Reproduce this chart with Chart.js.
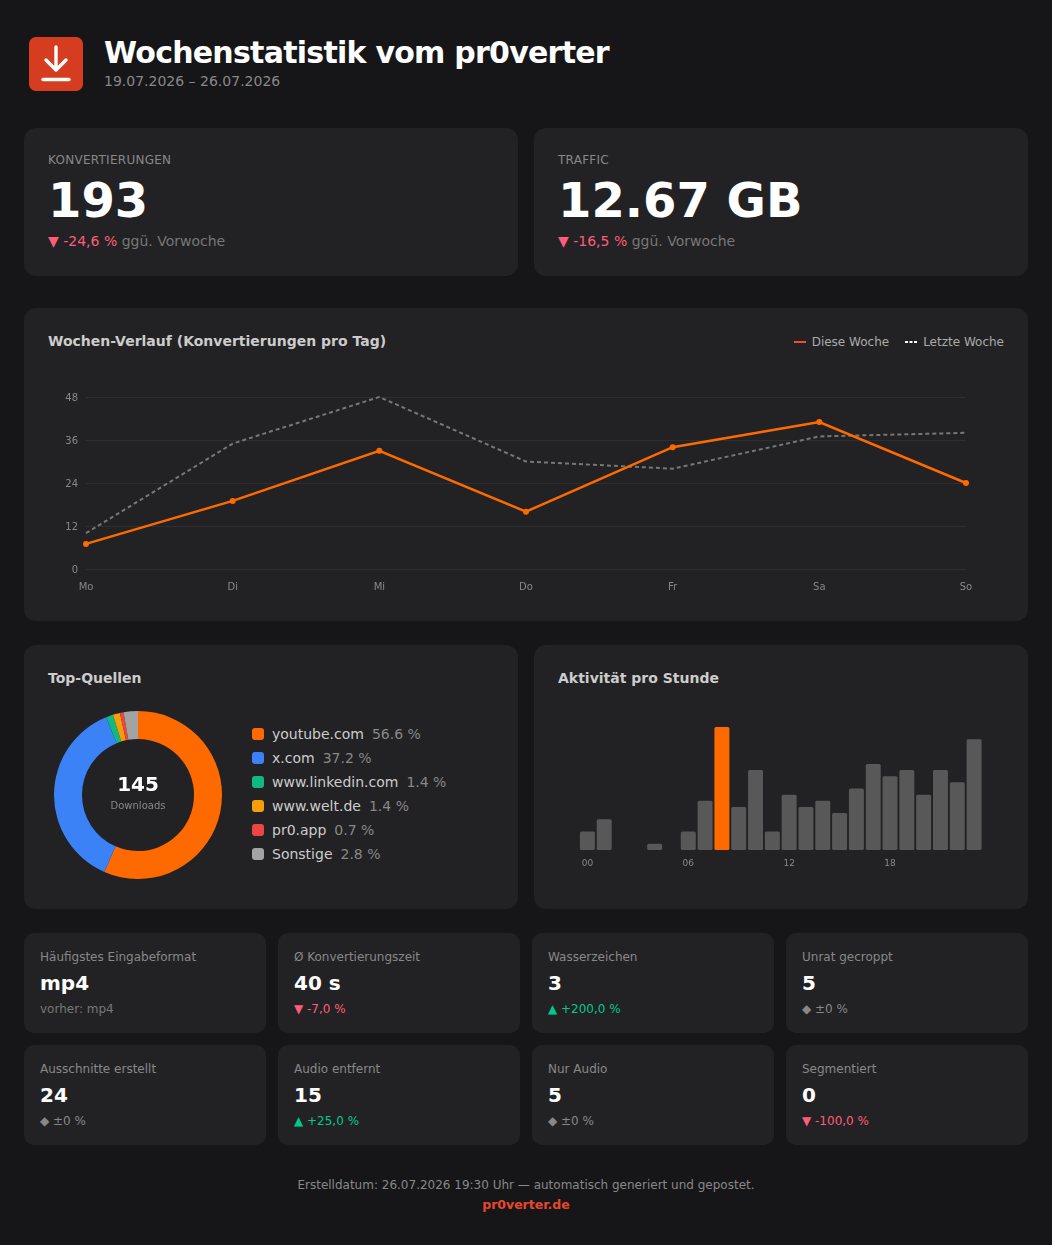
<!DOCTYPE html>
<html lang="de">
<head>
<meta charset="utf-8">
<title>Wochenstatistik vom pr0verter</title>
<script src="https://cdn.jsdelivr.net/npm/chart.js@4/dist/chart.umd.min.js"></script>
<style>
* { box-sizing: border-box; margin: 0; padding: 0; }
html, body { width: 1052px; height: 1245px; overflow: hidden; }
body { background: #161618; color: #fff; font-family: "DejaVu Sans", sans-serif; position: relative; }
.card { position: absolute; background: #222224; border-radius: 12px; }
.abs { position: absolute; white-space: nowrap; }
.head-title { left: 104px; top: 34px; font-size: 30px; line-height: 38px; font-weight: 700; letter-spacing: -0.75px; }
.head-sub { left: 104px; top: 72px; font-size: 14px; line-height: 18px; color: #888; }
.icon { position: absolute; left: 29px; top: 37px; }
.kpi-label { left: 24px; top: 24px; font-size: 12px; line-height: 15px; color: #888; letter-spacing: 0.27px; padding-top: 1px; }
.kpi-value { left: 24px; top: 43px; font-size: 48px; line-height: 58px; font-weight: 700; }
.kpi-delta { left: 24px; top: 104px; font-size: 14px; line-height: 18px; color: #777; }
.card-title { left: 24px; top: 24px; font-size: 14px; line-height: 18px; font-weight: 700; color: #ccc; }
.legend { right: 24px; top: 26px; font-size: 12px; line-height: 16px; color: #aaa; display: flex; align-items: center; }
.legend svg { margin-right: 6px; }
.legend span { margin-right: 16px; } .legend span:last-child { margin-right: 0; }
canvas { position: absolute; display: block; }
.src-row { left: 228px; font-size: 14px; line-height: 18px; color: #ccc; display: flex; align-items: center; }
.src-dot { width: 12px; height: 12px; border-radius: 3px; margin-right: 8px; }
.src-pct { color: #888; margin-left: 8px; }
.donut-num { left: 54px; width: 120px; top: 126px; text-align: center; font-size: 20px; line-height: 26px; font-weight: 700; }
.donut-cap { left: 54px; width: 120px; top: 154px; text-align: center; font-size: 10px; line-height: 13px; color: #888; }
.small { border-radius: 10px; width: 242px; height: 100px; }
.small-label { left: 16px; top: 16px; font-size: 12px; line-height: 16px; color: #888; }
.small-value { left: 16px; top: 37px; font-size: 20px; line-height: 26px; font-weight: 700; }
.small-note { left: 16px; top: 68px; font-size: 12px; line-height: 16px; color: #777; }
.small-note.down, .down { color: #ff5c7a; }
.small-note.up, .up { color: #00c98d; }
.small-note.flat, .flat { color: #888; }
.foot { left: 0; width: 1052px; text-align: center; }
</style>
</head>
<body>
<svg class="icon" width="54" height="54" viewBox="0 0 54 54">
  <rect width="54" height="54" rx="7" fill="#d63d20"/>
  <path d="M27 10V32M17 23L27 33L37 23" fill="none" stroke="#fff" stroke-width="3.4" stroke-linecap="round" stroke-linejoin="round"/>
  <path d="M14 42.500H40" stroke="#fff" stroke-width="3.4" stroke-linecap="round"/>
</svg>
<div class="abs head-title">Wochenstatistik vom pr0verter</div>
<div class="abs head-sub">19.07.2026 – 26.07.2026</div>

<div class="card" style="left:24px;top:128px;width:494px;height:148px">
  <div class="abs kpi-label">KONVERTIERUNGEN</div>
  <div class="abs kpi-value">193</div>
  <div class="abs kpi-delta"><b class="down" style="font-weight:400">▼ -24,6 %</b> ggü. Vorwoche</div>
</div>
<div class="card" style="left:534px;top:128px;width:494px;height:148px">
  <div class="abs kpi-label">TRAFFIC</div>
  <div class="abs kpi-value">12.67 GB</div>
  <div class="abs kpi-delta"><b class="down" style="font-weight:400">▼ -16,5 %</b> ggü. Vorwoche</div>
</div>

<div class="card" style="left:24px;top:308px;width:1004px;height:313px">
  <div class="abs card-title">Wochen-Verlauf (Konvertierungen pro Tag)</div>
  <div class="abs legend">
    <svg width="12" height="2"><line x1="0" y1="1" x2="12" y2="1" stroke="#f04e30" stroke-width="2"/></svg><span>Diese Woche</span>
    <svg width="12" height="2"><line x1="0" y1="1" x2="12" y2="1" stroke="#fff" stroke-width="2" stroke-dasharray="3 1.500"/></svg><span>Letzte Woche</span>
  </div>
  <canvas id="weekChart" width="956" height="228" style="left:24px;top:64px"></canvas>
</div>

<div class="card" style="left:24px;top:645px;width:494px;height:264px">
  <div class="abs card-title">Top-Quellen</div>
  <canvas id="sourceChart" width="168" height="168" style="left:30px;top:66px"></canvas>
  <div class="abs donut-num">145</div>
  <div class="abs donut-cap">Downloads</div>
  <div id="sourceList"></div>
</div>

<div class="card" style="left:534px;top:645px;width:494px;height:264px">
  <div class="abs card-title">Aktivität pro Stunde</div>
  <canvas id="hourChart" width="446" height="165" style="left:24px;top:65px"></canvas>
</div>

<div id="smallCards"></div>

<div class="abs foot" style="top:1177px;font-size:12px;line-height:16px;color:#888">Erstelldatum: 26.07.2026 19:30 Uhr — automatisch generiert und gepostet.</div>
<div class="abs foot" style="top:1197px;font-size:12.500px;line-height:16px;font-weight:700;color:#e8472a">pr0verter.de</div>

<script>
// Wochenverlauf
const days = ['Mo', 'Di', 'Mi', 'Do', 'Fr', 'Sa', 'So'];
const thisWeek = [7, 19, 33, 16, 34, 41, 24];
const lastWeek = [10, 35, 48, 30, 28, 37, 38];
const weekTicks = [0, 12, 24, 36, 48];

// Top-Quellen
const sources = ['youtube.com', 'x.com', 'www.linkedin.com', 'www.welt.de', 'pr0.app', 'Sonstige'];
const sourceCounts = [82, 54, 2, 2, 1, 4];
const sourcePercents = ['56.6 %', '37.2 %', '1.4 %', '1.4 %', '0.7 %', '2.8 %'];
const sourceColors = ['#ff6a00', '#3b82f6', '#10b981', '#f59e0b', '#ef4444', '#a3a3a3'];

// Aktivität pro Stunde
const hours = ['00', '01', '02', '03', '04', '05', '06', '07', '08', '09', '10', '11', '12', '13', '14', '15', '16', '17', '18', '19', '20', '21', '22', '23'];
const hourCounts = [3, 5, 0, 0, 1, 0, 3, 8, 20, 7, 13, 3, 9, 7, 8, 6, 10, 14, 12, 13, 9, 13, 11, 18];

// kleine Kacheln
const smallLabels = ['Häufigstes Eingabeformat', 'Ø Konvertierungszeit', 'Wasserzeichen', 'Unrat gecroppt', 'Ausschnitte erstellt', 'Audio entfernt', 'Nur Audio', 'Segmentiert'];
const smallValues = ['mp4', '40 s', '3', '5', '24', '15', '5', '0'];
const smallDeltas = ['vorher: mp4', '▼ -7,0 %', '▲ +200,0 %', '◆ ±0 %', '◆ ±0 %', '▲ +25,0 %', '◆ ±0 %', '▼ -100,0 %'];

const FONT = '"DejaVu Sans", sans-serif';
const tickFont = { family: FONT, size: 10 };

// Legende Top-Quellen
const list = document.getElementById('sourceList');
sources.forEach((name, i) => {
    const row = document.createElement('div');
    row.className = 'abs src-row';
    row.style.top = (80 + i * 24) + 'px';
    row.innerHTML = '<i class="src-dot" style="background:' + sourceColors[i] + '"></i>' + name + '<span class="src-pct">' + sourcePercents[i] + '</span>';
    list.appendChild(row);
});

// Kacheln
const cardBox = document.getElementById('smallCards');
smallLabels.forEach((label, i) => {
    const d = smallDeltas[i];
    const cls = d[0] === '▼' ? 'down' : d[0] === '▲' ? 'up' : d[0] === '◆' ? 'flat' : '';
    const el = document.createElement('div');
    el.className = 'card small';
    el.style.left = (24 + (i % 4) * 254) + 'px';
    el.style.top = (933 + Math.floor(i / 4) * 112) + 'px';
    el.innerHTML = '<div class="abs small-label">' + label + '</div><div class="abs small-value">' + smallValues[i] + '</div><div class="abs small-note ' + cls + '">' + d + '</div>';
    cardBox.appendChild(el);
});

// Linienchart
new Chart(document.getElementById('weekChart'), {
    type: 'line',
    data: {
        labels: days,
        datasets: [{
            label: 'Diese Woche',
            data: thisWeek,
            borderColor: '#ff6a00',
            backgroundColor: '#ff6a00',
            borderWidth: 2.5,
            pointRadius: 3,
            pointBorderWidth: 0,
            tension: 0,
            clip: false
        }, {
            label: 'Letzte Woche',
            data: lastWeek,
            borderColor: '#777777',
            borderWidth: 2,
            borderDash: [4, 3],
            pointRadius: 0,
            tension: 0,
            clip: false
        }]
    },
    options: {
        responsive: false,
        animation: false,
        layout: { padding: { top: 25, right: 38, bottom: 0, left: 0 } },
        plugins: { legend: { display: false }, tooltip: { enabled: false } },
        scales: {
            x: {
                grid: { display: false },
                border: { display: false },
                ticks: { color: '#888', font: tickFont, padding: 4, maxRotation: 0 },
                afterFit: s => { s.height = 31; }
            },
            y: {
                min: 0,
                max: 48,
                afterBuildTicks: s => { s.ticks = weekTicks.map(v => ({ value: v })); },
                grid: { color: '#2e2e30', drawTicks: false },
                border: { display: false },
                ticks: { color: '#888', font: tickFont, padding: 8, labelOffset: 1 },
                afterFit: s => { s.width = 38; }
            }
        }
    }
});

// Donut
new Chart(document.getElementById('sourceChart'), {
    type: 'doughnut',
    data: {
        labels: sources,
        datasets: [{ data: sourceCounts, backgroundColor: sourceColors, borderWidth: 0 }]
    },
    options: {
        responsive: false,
        animation: false,
        cutout: '66.7%',
        plugins: { legend: { display: false }, tooltip: { enabled: false } }
    }
});

// Balken pro Stunde
new Chart(document.getElementById('hourChart'), {
    type: 'bar',
    data: {
        labels: hours,
        datasets: [{
            data: hourCounts,
            backgroundColor: hourCounts.map(v => v === Math.max(...hourCounts) ? '#ff6a00' : '#585858'),
            borderRadius: 1.5,
            borderSkipped: false,
            categoryPercentage: 1,
            barPercentage: 0.89
        }]
    },
    options: {
        responsive: false,
        animation: false,
        layout: { padding: { top: 17, right: 21.500, bottom: 0, left: 21 } },
        plugins: { legend: { display: false }, tooltip: { enabled: false } },
        scales: {
            x: {
                grid: { display: false },
                border: { display: false },
                ticks: {
                    color: '#888',
                    font: { family: FONT, size: 9 },
                    padding: 0,
                    autoSkip: false,
                    maxRotation: 0,
                    callback: (v, i) => i % 6 === 0 ? hours[i] : ''
                },
                afterFit: s => { s.height = 25; }
            },
            y: { display: false, min: 0, max: 20 }
        }
    }
});
</script>
</body>
</html>
